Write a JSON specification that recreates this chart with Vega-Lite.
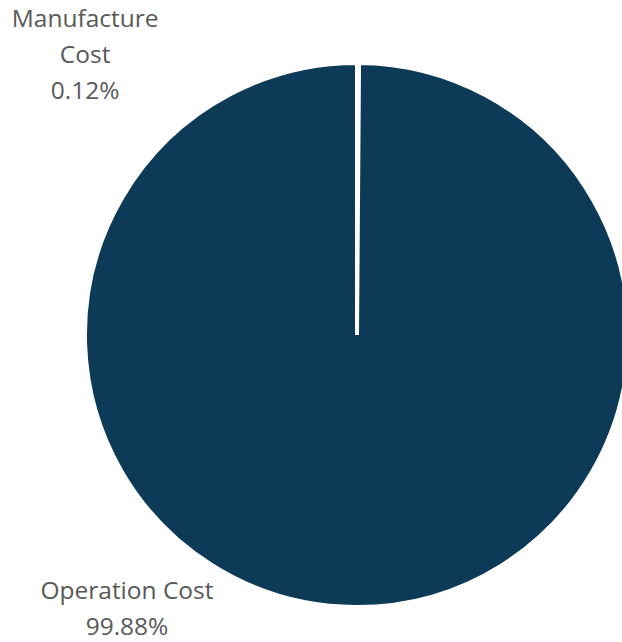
{
  "$schema": "https://vega.github.io/schema/vega-lite/v6.json",
  "width": 530,
  "height": 614,
  "autosize": {"type": "none"},
  "padding": {"left": 92, "top": 28, "right": 0, "bottom": 0},
  "background": "white",
  "config": {"view": {"stroke": null}},
  "data": {
    "values": [
      {"category": "Manufacture Cost", "share": 0.12, "label": "Manufacture\nCost\n0.12%"},
      {"category": "Operation Cost", "share": 99.88, "label": "Operation Cost\n99.88%"}
    ]
  },
  "encoding": {
    "theta": {"field": "share", "type": "quantitative", "stack": true}
  },
  "layer": [
    {
      "mark": {"type": "arc", "outerRadius": 272, "fill": "#0d3b57", "stroke": "white", "strokeWidth": 4, "strokeJoin": "bevel"}
    },
    {
      "mark": {"type": "text", "radius": 345, "thetaOffset": 0.726, "font": "Open Sans", "fontSize": 24.5, "color": "#595959", "lineBreak": "\n", "lineHeight": 36, "align": "center", "baseline": "middle"},
      "encoding": {
        "text": {"condition": {"test": "datum.category === 'Operation Cost'", "field": "label"}, "value": ""}
      }
    },
    {
      "mark": {"type": "text", "radius": 416, "thetaOffset": -0.716, "font": "Open Sans", "fontSize": 24.5, "color": "#595959", "lineBreak": "\n", "lineHeight": 36, "align": "center", "baseline": "middle"},
      "encoding": {
        "text": {"condition": {"test": "datum.category === 'Manufacture Cost'", "field": "label"}, "value": ""}
      }
    }
  ]
}
